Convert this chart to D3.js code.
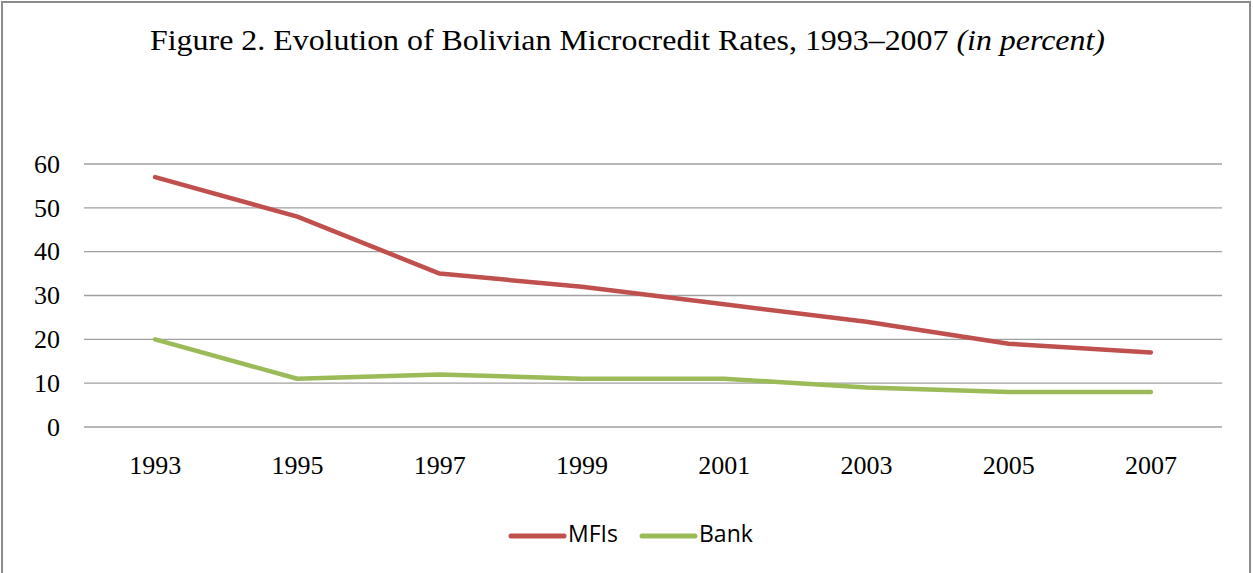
<!DOCTYPE html>
<html><head><meta charset="utf-8">
<script src="https://cdn.jsdelivr.net/npm/d3@7"></script>
<style>body{margin:0;background:#fff;} svg{display:block;}</style>
</head><body>
<script>
const years = ["1993","1995","1997","1999","2001","2003","2005","2007"];
const mfis = [57, 48, 35, 32, 28, 24, 19, 17];
const bank = [20, 11, 12, 11, 11, 9, 8, 8];
const yTicks = [0, 10, 20, 30, 40, 50, 60];
const seriesNames = ["MFIs", "Bank"];
const colors = ["#C0504D", "#9BBB59"];

const W = 1253, H = 573;
const svg = d3.select("body").append("svg").attr("width", W).attr("height", H);
svg.append("rect").attr("x", 2).attr("y", 2).attr("width", 1248).attr("height", 600)
  .attr("fill", "#fff").attr("stroke", "#8c8c8c").attr("stroke-width", 2);

svg.append("text").attr("x", 150).attr("y", 50).attr("text-anchor", "start")
  .attr("textLength", 955).attr("lengthAdjust", "spacingAndGlyphs")
  .attr("font-family", "Liberation Serif, Times New Roman, serif").attr("font-size", 30)
  .attr("fill", "#000")
  .call(t => { t.append("tspan").text("Figure 2. Evolution of Bolivian Microcredit Rates, 1993–2007 ");
               t.append("tspan").attr("font-style", "italic").text("(in percent)"); });

const x = d3.scaleBand().domain(years).range([84, 1222]);
const y = d3.scaleLinear().domain([0, 60]).range([427, 164]);

const grid = svg.append("g");
grid.selectAll("line").data(yTicks).join("line")
  .attr("x1", 84).attr("x2", 1222).attr("y1", d => y(d)).attr("y2", d => y(d))
  .attr("stroke", "#a0a0a0").attr("stroke-width", 1.3);

const yAxis = svg.append("g").attr("transform", "translate(84,0)")
  .call(d3.axisLeft(y).tickValues(yTicks).tickSize(0).tickPadding(24));
yAxis.select(".domain").remove();
yAxis.selectAll("text").attr("font-family", "Liberation Serif, Times New Roman, serif")
  .attr("font-size", 26).attr("fill", "#000");

const xAxis = svg.append("g").attr("transform", "translate(0,427)")
  .call(d3.axisBottom(x).tickSize(0).tickPadding(29));
xAxis.select(".domain").remove();
xAxis.selectAll("text").attr("font-family", "Liberation Serif, Times New Roman, serif")
  .attr("font-size", 26).attr("fill", "#000");

const line = d3.line().x((d, i) => x(years[i]) + x.bandwidth() / 2).y(d => y(d));
[mfis, bank].forEach((s, k) => {
  svg.append("path").datum(s).attr("d", line).attr("fill", "none")
    .attr("stroke", colors[k]).attr("stroke-width", 4.5)
    .attr("stroke-linejoin", "round").attr("stroke-linecap", "round");
});

const legX = [511, 642];
const leg = svg.append("g");
seriesNames.forEach((n, k) => {
  leg.append("line").attr("x1", legX[k]).attr("x2", legX[k] + 53).attr("y1", 536).attr("y2", 536)
    .attr("stroke", colors[k]).attr("stroke-width", 5).attr("stroke-linecap", "round");
  leg.append("text").attr("x", legX[k] + 57).attr("y", 542)
    .attr("font-family", "Open Sans, Liberation Sans, sans-serif").attr("font-size", 23)
    .attr("fill", "#000").text(n);
});
</script>
</body></html>
